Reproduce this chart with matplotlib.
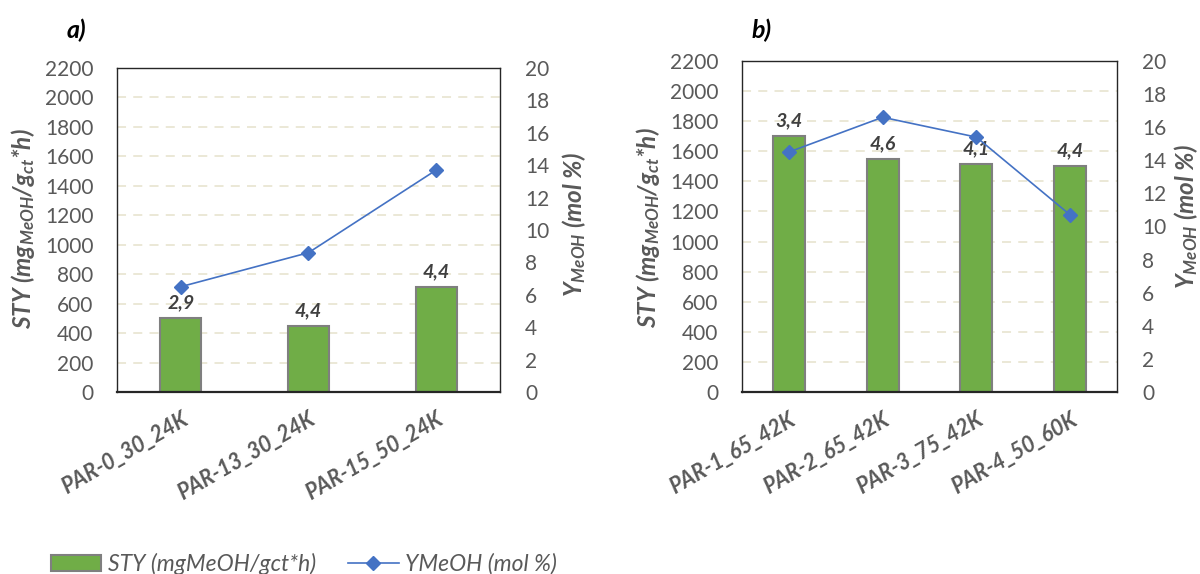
import numpy as np
import matplotlib.pyplot as plt
from matplotlib.lines import Line2D
from matplotlib.patches import Patch

plt.rcParams['font.family'] = ['Lato', 'DejaVu Sans']
plt.rcParams['mathtext.fontset'] = 'custom'
plt.rcParams['mathtext.it'] = 'Lato:italic:bold'
plt.rcParams['mathtext.rm'] = 'Lato:italic:bold'
plt.rcParams['mathtext.bf'] = 'Lato:italic:bold'

# panel a
cats_a = ['PAR-0_30_24K', 'PAR-13_30_24K', 'PAR-15_50_24K']
sty_a = [500, 450, 710]
ymeoh_a = [6.5, 8.6, 13.7]
lab_a = ['2,9', '4,4', '4,4']

# panel b
cats_b = ['PAR-1_65_42K', 'PAR-2_65_42K', 'PAR-3_75_42K', 'PAR-4_50_60K']
sty_b = [1700, 1550, 1515, 1500]
ymeoh_b = [14.5, 16.6, 15.4, 10.7]
lab_b = ['3,4', '4,6', '4,1', '4,4']

GREEN = '#70AD47'
EDGE = '#7F7F7F'
BLUE = '#4472C4'
GRAY = '#595959'
GRID = '#E9E6D3'

fig = plt.figure(figsize=(12, 5.74), dpi=100)

ylab_left = 'STY (mg$_{MeOH}$/g$_{ct}$*h)'
ylab_right = 'Y$_{MeOH}$ (mol %)'


def panel(rect, cats, sty, ymeoh, labels, tag, bar_w, lcoords, rcoords):
    ax = fig.add_axes(rect)
    x = np.arange(len(cats))
    ax.set_axisbelow(True)
    bars = ax.bar(x, sty, width=bar_w, color=GREEN, edgecolor=EDGE, linewidth=1.5, zorder=2)
    for b, t in zip(bars, labels):
        ax.annotate(t, (b.get_x() + b.get_width() / 2, b.get_height()),
                    xytext=(0, 5), textcoords='offset points', ha='center', va='bottom',
                    fontsize=14, fontweight='bold', fontstyle='italic', color='#404040', zorder=5)
    ax.set_xlim(-0.5, len(cats) - 0.5)
    ax.set_ylim(0, 2200)
    ax.set_yticks(np.arange(0, 2201, 200))
    ax.yaxis.grid(True, linestyle=(0, (5, 4)), color=GRID, linewidth=1.3)
    ax.set_xticks(x)
    ax.set_xticklabels(cats, rotation=30, ha='right', rotation_mode='anchor',
                       fontsize=15.5, fontweight='bold', fontstyle='italic', color=GRAY)
    ax.tick_params(axis='y', labelsize=15, labelcolor=GRAY, length=0, pad=17)
    ax.tick_params(axis='x', length=0, pad=12)
    ax.set_ylabel(ylab_left, fontsize=17.5, fontweight='bold', fontstyle='italic', color=GRAY)
    ax.yaxis.set_label_coords(*lcoords)
    for s in ax.spines.values():
        s.set_color('#262626')
        s.set_linewidth(1.0)
    ax.spines['bottom'].set_linewidth(1.6)

    ax2 = ax.twinx()
    ax2.plot(x, ymeoh, color=BLUE, marker='D', markersize=7.5, linewidth=1.2, zorder=4)
    ax2.set_ylim(0, 20)
    ax2.set_yticks(np.arange(0, 21, 2))
    ax2.tick_params(axis='y', labelsize=15, labelcolor=GRAY, length=0, pad=18)
    ax2.set_ylabel(ylab_right, fontsize=17.5, fontweight='bold', fontstyle='italic', color=GRAY)
    ax2.yaxis.set_label_coords(*rcoords)
    for s in ax2.spines.values():
        s.set_visible(False)
    fig.text(tag[1], tag[2], tag[0], fontsize=18, fontweight='bold', fontstyle='italic',
             color='black', ha='left', va='center')
    return ax


panel([117 / 1200, 182 / 574, 383 / 1200, 324 / 574], cats_a, sty_a, ymeoh_a, lab_a,
      ('a)', 67 / 1200, 1 - 30 / 574), 0.32, (-0.209, 0.503), (1.157, 0.515))
panel([742 / 1200, 182 / 574, 375 / 1200, 331 / 574], cats_b, sty_b, ymeoh_b, lab_b,
      ('b)', 751 / 1200, 1 - 30 / 574), 0.34, (-0.213, 0.498), (1.146, 0.529))

handles = [Patch(facecolor=GREEN, edgecolor=EDGE, linewidth=1.5),
           Line2D([0], [0], color=BLUE, marker='D', markersize=7.5, linewidth=1.2)]
fig.legend(handles, ['STY (mgMeOH/gct*h)', 'YMeOH (mol %)'], loc='center left',
           bbox_to_anchor=(30 / 1200, 1 - 564 / 574), ncol=2, frameon=False,
           prop={'size': 16.5, 'style': 'italic'}, labelcolor=GRAY,
           handlelength=2.2, handleheight=0.7, columnspacing=1.4, handletextpad=0.3)

fig.savefig('out.png', dpi=100)
